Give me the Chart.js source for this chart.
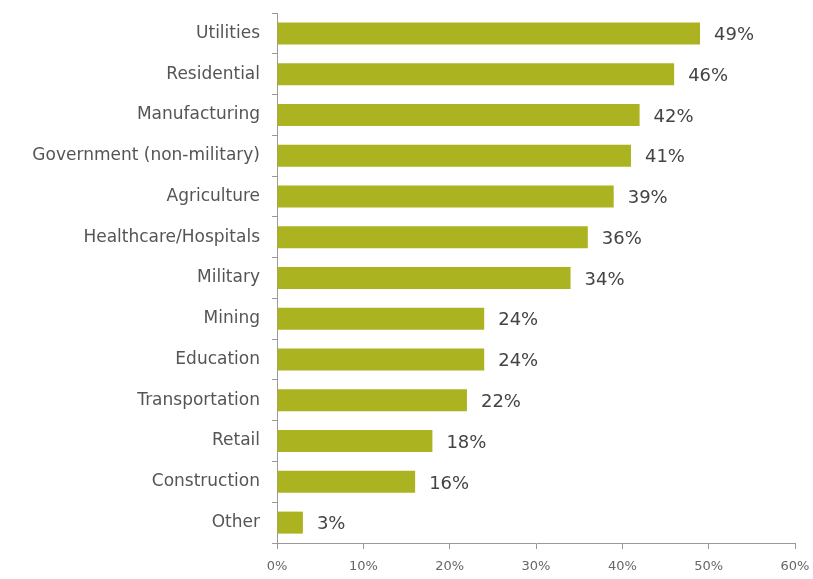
<!DOCTYPE html>
<html>
<head>
<meta charset="utf-8">
<script src="https://cdn.jsdelivr.net/npm/chart.js@4/dist/chart.umd.min.js"></script>
<style>
  html, body { margin: 0; padding: 0; background: #fff; }
  #wrap { width: 813px; height: 579px; }
</style>
</head>
<body>
<div id="wrap"><canvas id="sectorChart"></canvas></div>
<script>
const sectors = ['Utilities', 'Residential', 'Manufacturing', 'Government (non-military)', 'Agriculture',
  'Healthcare/Hospitals', 'Military', 'Mining', 'Education', 'Transportation', 'Retail', 'Construction', 'Other'];
const shares = [49, 46, 42, 41, 39, 36, 34, 24, 24, 22, 18, 16, 3];
const xTicks = [0, 10, 20, 30, 40, 50, 60];

const FONT = "'DejaVu Sans', sans-serif";

// value labels at the end of each bar
const barValues = {
  id: 'barValues',
  afterDatasetsDraw(chart) {
    const ctx = chart.ctx;
    const meta = chart.getDatasetMeta(0);
    ctx.save();
    ctx.font = '18px ' + FONT;
    ctx.fillStyle = '#444';
    ctx.textBaseline = 'middle';
    meta.data.forEach((bar, i) => {
      ctx.fillText(shares[i] + '%', bar.x + 14, bar.y + 2);
    });
    ctx.restore();
  }
};

new Chart(document.getElementById('sectorChart'), {
  type: 'bar',
  data: {
    labels: sectors,
    datasets: [{
      data: shares,
      backgroundColor: '#abb420',
      categoryPercentage: 1,
      barPercentage: 0.54
    }]
  },
  options: {
    indexAxis: 'y',
    responsive: true,
    maintainAspectRatio: false,
    animation: false,
    layout: { padding: { top: 13, right: 18, left: 0, bottom: 0 } },
    plugins: { legend: { display: false }, tooltip: { enabled: false } },
    scales: {
      x: {
        min: 0,
        max: 60,
        afterBuildTicks(scale) { scale.ticks = xTicks.map(v => ({ value: v })); },
        afterFit(scale) {
          scale.height = 36;
          scale.paddingLeft = 0;
          scale.paddingRight = 0;
        },
        grid: { drawOnChartArea: false, tickLength: 6, color: '#999' },
        border: { color: '#999', width: 1 },
        ticks: {
          callback: v => v + '%',
          font: { family: FONT, size: 13 },
          color: '#666',
          padding: 10,
          maxRotation: 0
        }
      },
      y: {
        afterFit(scale) {
          scale.width = 277;
          scale.paddingTop = 0;
          scale.paddingBottom = 0;
        },
        grid: { drawOnChartArea: false, tickLength: 5, color: '#999', offset: true },
        border: { color: '#999', width: 1 },
        ticks: {
          font: { family: FONT, size: 17 },
          color: '#555',
          padding: 12
        }
      }
    }
  },
  plugins: [barValues]
});
</script>
</body>
</html>
